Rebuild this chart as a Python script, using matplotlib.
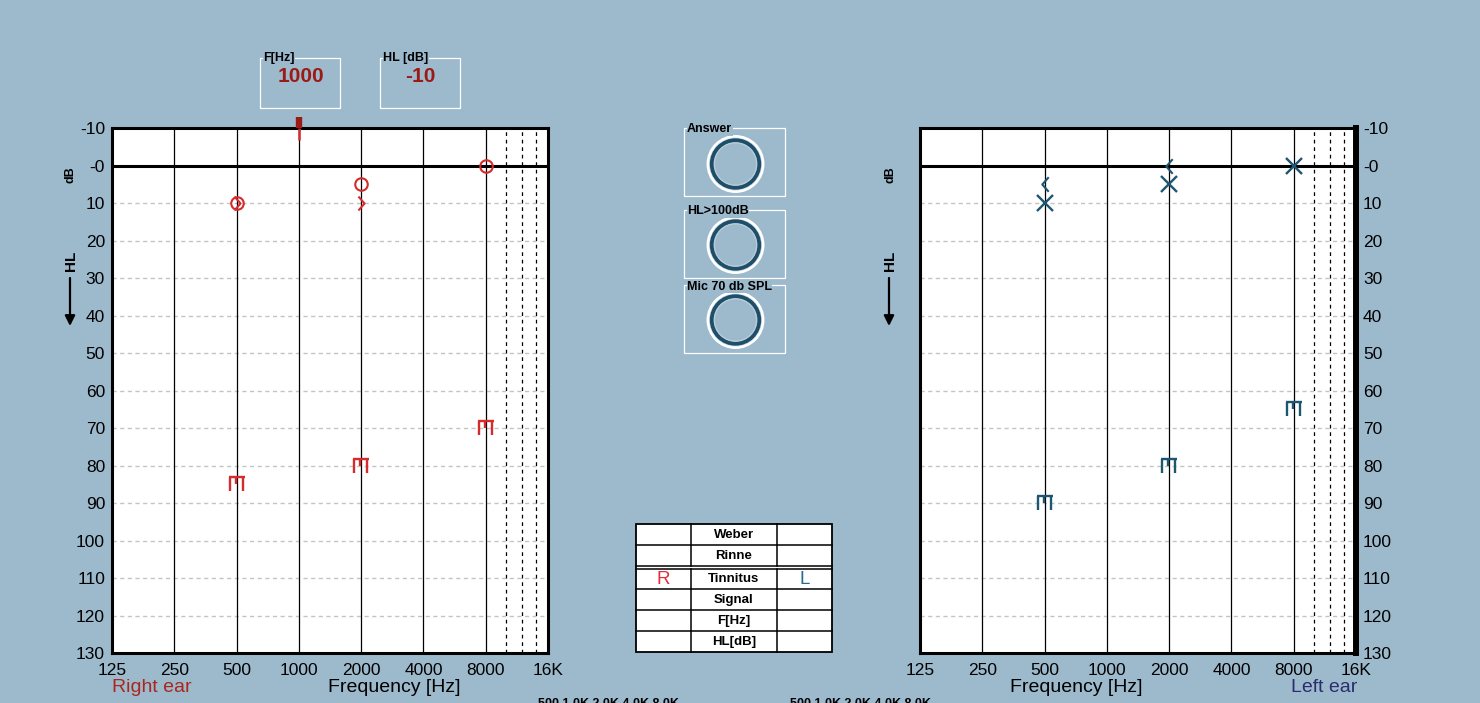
import matplotlib
matplotlib.use('Agg')
import matplotlib.pyplot as plt
from matplotlib.path import Path
from matplotlib.patches import Rectangle, Circle

plt.rcParams['font.family'] = ['Liberation Sans', 'DejaVu Sans']

W, H = 1480, 703

bg        = '#9dbacd'
red       = '#d42c2c'
red_dark  = '#9c1a16'
teal      = '#1d5670'
ring_dark = '#1f4f68'
grid_gray = '#c4c4c4'
left_blue = '#2a2d6e'

# axis data
oct_freqs  = [125, 250, 500, 1000, 2000, 4000, 8000, 16000]
oct_labels = ['125', '250', '500', '1000', '2000', '4000', '8000', '16K']
ext_freqs  = [10000, 12000, 14000]
hl_ticks   = list(range(-10, 131, 10))
hl_labels  = ['-10', '-0'] + [str(v) for v in range(10, 131, 10)]

# right ear (red)
r_ac_freq   = [500, 2000, 8000]
r_ac_hl     = [10, 5, 0]
r_bc_freq   = [500, 2000]
r_bc_hl     = [10, 10]
r_mask_freq = [500, 2000, 8000]
r_mask_hl   = [85, 80, 70]

# left ear (teal)
l_ac_freq   = [500, 2000, 8000]
l_ac_hl     = [10, 5, 0]
l_bc_freq   = [500, 2000]
l_bc_hl     = [5, 0]
l_mask_freq = [500, 2000, 8000]
l_mask_hl   = [90, 80, 65]

# cursor
cursor_freq = 1000
cursor_hl   = -10

table_rows = ['Weber', 'Rinne', 'Tinnitus', 'Signal', 'F[Hz]', 'HL[dB]']
buttons    = ['Answer', 'HL>100dB', 'Mic 70 db SPL']

M, L = Path.MOVETO, Path.LINETO
mask_marker = Path([(-0.5, 0.42), (0.5, 0.42), (-0.46, 0.42), (-0.46, -0.42),
                    (0.36, 0.42), (0.36, -0.42), (-0.08, 0.42), (-0.08, 0.0)],
                   [M, L, M, L, M, L, M, L])
gt_marker = Path([(-0.22, 0.5), (0.22, 0.0), (-0.22, -0.5)], [M, L, L])
lt_marker = Path([(0.22, 0.5), (-0.22, 0.0), (0.22, -0.5)], [M, L, L])
up_marker = Path([(0, 0), (0, 1)], [M, L])
dn_marker = Path([(0, 0), (0, -1)], [M, L])

fig = plt.figure(figsize=(W / 100, H / 100), dpi=100, facecolor=bg)

ov = fig.add_axes([0, 0, 1, 1], zorder=0)
ov.set_xlim(0, W)
ov.set_ylim(H, 0)
ov.axis('off')


def audiogram(left_px, right_side):
    ax = fig.add_axes([left_px / W, 50 / H, 436 / W, 525 / H], zorder=1)
    ax.set_facecolor('white')
    ax.set_xscale('log', base=2)
    ax.set_xlim(125, 16000)
    ax.set_ylim(130, -10)
    ax.set_xticks(oct_freqs)
    ax.set_xticklabels(oct_labels)
    ax.minorticks_off()
    ax.set_yticks(hl_ticks)
    ax.set_yticklabels(hl_labels)
    ax.tick_params(length=0, labelsize=12.5, colors='black')
    ax.tick_params(axis='x', pad=7)
    ax.tick_params(axis='y', pad=5)
    if right_side:
        ax.yaxis.tick_right()
    for s in ax.spines.values():
        s.set_linewidth(2.2)
        s.set_color('black')
    if right_side:
        ax.spines['right'].set_linewidth(4.3)
    for v in hl_ticks[2:-1]:
        ax.axhline(v, color=grid_gray, lw=1, ls=(0, (3, 2.5)), zorder=1)
    ax.axhline(0, color='black', lw=2.2, zorder=2)
    for f in oct_freqs[1:-1]:
        ax.axvline(f, color='black', lw=0.9, zorder=2)
    for f in ext_freqs:
        ax.axvline(f, color='black', lw=0.9, ls=(0, (3, 3)), zorder=2)
    return ax


axL = audiogram(112, False)
axR = audiogram(920, True)

# right ear marks
axL.plot(r_ac_freq, r_ac_hl, ls='none', marker='o', ms=9, mfc='none',
         mec=red, mew=1.5, zorder=5)
axL.plot(r_bc_freq, r_bc_hl, ls='none', marker=gt_marker, ms=10, mfc='none',
         mec=red, mew=1.5, zorder=5)
axL.plot(r_mask_freq, r_mask_hl, ls='none', marker=mask_marker, ms=11.5,
         mfc='none', mec=red, mew=1.7, zorder=5)
axL.plot([cursor_freq], [cursor_hl], ls='none', marker=up_marker, ms=16,
         mec=red_dark, mew=4.6, clip_on=False, zorder=6)
axL.plot([cursor_freq], [cursor_hl], ls='none', marker=dn_marker, ms=17,
         mec=red, mew=1.8, clip_on=False, zorder=6)

# left ear marks
axR.plot(l_ac_freq, l_ac_hl, ls='none', marker='x', ms=11, mec=teal,
         mew=1.7, zorder=5)
axR.plot(l_bc_freq, l_bc_hl, ls='none', marker=lt_marker, ms=10.5,
         mfc='none', mec=teal, mew=1.5, zorder=5)
axR.plot(l_mask_freq, l_mask_hl, ls='none', marker=mask_marker, ms=11.5,
         mfc='none', mec=teal, mew=1.7, zorder=5)

# axis titles
for x0 in (71, 890):
    ov.text(x0, 175, 'dB', rotation=90, ha='center', va='center',
            fontsize=9, fontweight='bold')
    ov.text(x0, 261, 'HL', rotation=90, ha='center', va='center',
            fontsize=11, fontweight='bold')
    ov.annotate('', xy=(x0 - 1, 326), xytext=(x0 - 1, 278),
                arrowprops=dict(arrowstyle='-|>', color='black', lw=1.6,
                                mutation_scale=15, shrinkA=0, shrinkB=0))

ov.text(112, 687, 'Right ear', ha='left', va='center', fontsize=14,
        color='#a8281e')
ov.text(394, 687, 'Frequency [Hz]', ha='center', va='center', fontsize=14)
ov.text(1076, 687, 'Frequency [Hz]', ha='center', va='center', fontsize=14)
ov.text(1357, 687, 'Left ear', ha='right', va='center', fontsize=14,
        color=left_blue)

# labels cut off by the lower edge, as in the source screen
for x0 in (538, 790):
    ov.text(x0, 698, '500 1.0K 2.0K 4.0K 8.0K', ha='left', va='top',
            fontsize=9, fontweight='bold')

# value boxes
for x0, lab, val in [(260, 'F[Hz]', str(cursor_freq)),
                     (380, 'HL [dB]', str(cursor_hl))]:
    ov.add_patch(Rectangle((x0, 58), 80, 50, fill=False, ec='white', lw=0.9))
    ov.text(x0 + 3, 58.5, lab, ha='left', va='center', fontsize=9,
            fontweight='bold', bbox=dict(fc=bg, ec='none', pad=0.3))
    ov.text(x0 + 40.5, 76, val, ha='center', va='center', fontsize=15,
            fontweight='bold', color=red_dark)

# buttons
for (y0, cy), lab in zip([(128, 164), (210, 245), (285, 320)], buttons):
    ov.add_patch(Rectangle((684, y0), 100.5, 68, fill=False, ec='white',
                           lw=0.9))
    ov.text(687, y0 + 1.5, lab, ha='left', va='center', fontsize=9,
            fontweight='bold', bbox=dict(fc=bg, ec='none', pad=0.3))
    ov.add_patch(Circle((735.5, cy), 27.3, fill=False, ec='white', lw=2.4))
    ov.add_patch(Circle((735.5, cy), 25.6, fill=False, ec='#c9dbe6', lw=1.2))
    ov.add_patch(Circle((735.5, cy), 23.6, fill=False, ec=ring_dark, lw=3))
    ov.add_patch(Circle((735.5, cy), 21.2, fill=False, ec='#b7ccd9', lw=1))

# test table
tx = [636, 691.3, 776.7, 831.7]
ty = [524.3, 545.3, 566.3, 568.7, 589.3, 610.3, 631.3, 652.3]
ov.add_patch(Rectangle((tx[0], ty[0]), tx[-1] - tx[0], ty[-1] - ty[0],
                       fc='white', ec='black', lw=1.3))
for y in ty[1:-1]:
    ov.plot([tx[0], tx[-1]], [y, y], color='black', lw=1.1)
for x in tx[1:-1]:
    ov.plot([x, x], [ty[0], ty[2]], color='black', lw=1.1)
    ov.plot([x, x], [ty[3], ty[-1]], color='black', lw=1.1)
row_bounds = [(ty[0], ty[1]), (ty[1], ty[2]), (ty[3], ty[4]),
              (ty[4], ty[5]), (ty[5], ty[6]), (ty[6], ty[7])]
for (a, b), lab in zip(row_bounds, table_rows):
    ov.text((tx[1] + tx[2]) / 2, (a + b) / 2 + 0.5, lab, ha='center',
            va='center', fontsize=9.5, fontweight='bold')
ov.text((tx[0] + tx[1]) / 2, (ty[3] + ty[4]) / 2 + 0.5, 'R', ha='center',
        va='center', fontsize=13.5, color='#e0303a')
ov.text((tx[2] + tx[3]) / 2, (ty[3] + ty[4]) / 2 + 0.5, 'L', ha='center',
        va='center', fontsize=13.5, color='#2a6a8c')

fig.savefig('out.png', dpi=100, facecolor=bg)
